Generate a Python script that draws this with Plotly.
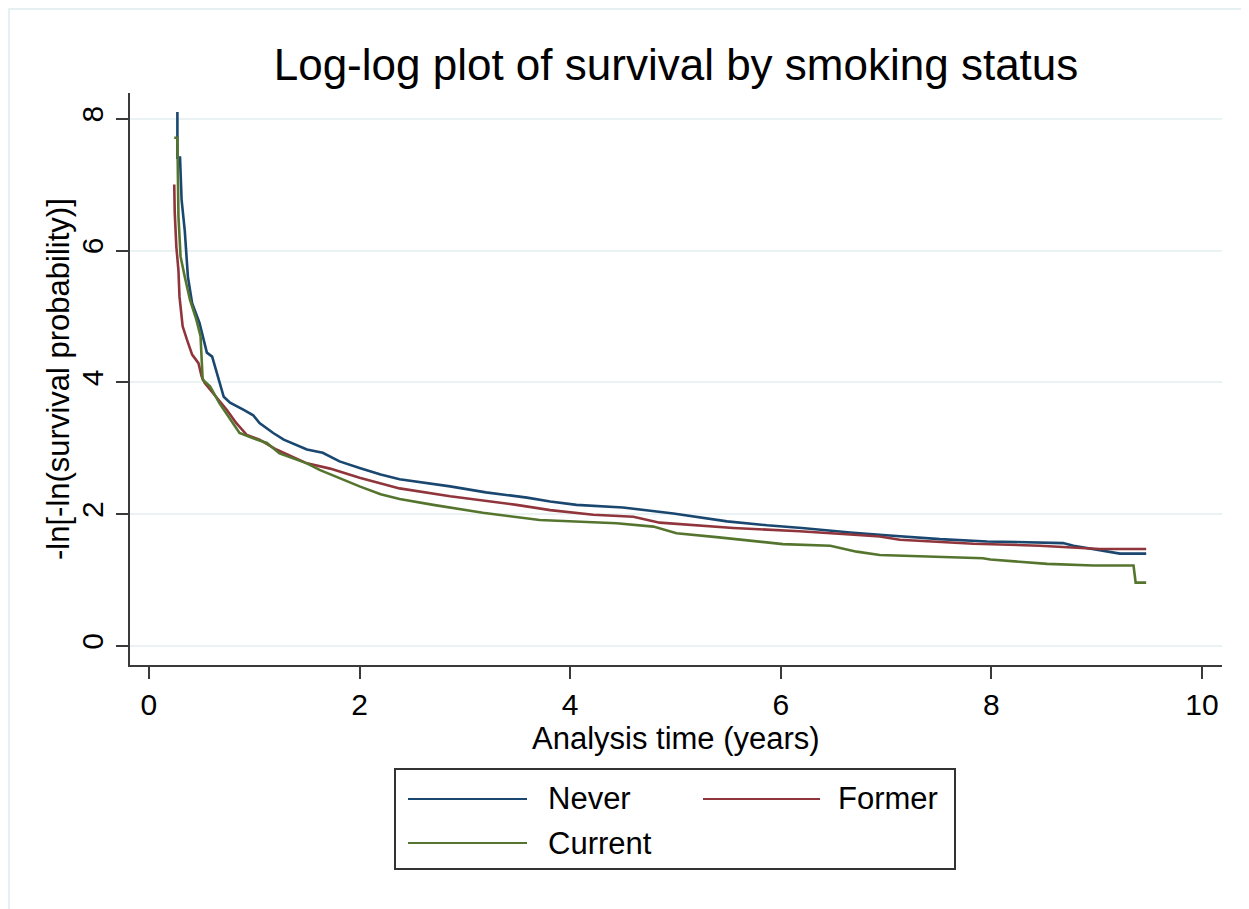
import plotly.graph_objects as go

# ---------------- data ----------------
series_names = ["Never", "Former", "Current"]

never_x = [0.27, 0.27, 0.295, 0.31, 0.34, 0.37, 0.41, 0.48, 0.55, 0.60, 0.71, 0.77, 0.90, 0.99,
           1.05, 1.18, 1.28, 1.50, 1.65, 1.81, 2.00, 2.20, 2.38, 2.86, 3.20, 3.59, 3.81, 4.06,
           4.50, 4.98, 5.49, 5.87, 6.20, 6.66, 7.00, 7.51, 7.96, 8.68, 8.78, 9.09, 9.22, 9.47]
never_y = [8.10, 7.41, 7.41, 6.77, 6.30, 5.60, 5.20, 4.90, 4.45, 4.39, 3.78, 3.69, 3.58, 3.50,
           3.38, 3.23, 3.13, 2.98, 2.93, 2.80, 2.70, 2.60, 2.53, 2.42, 2.33, 2.25, 2.19, 2.14,
           2.10, 2.01, 1.89, 1.83, 1.79, 1.72, 1.68, 1.62, 1.585, 1.56, 1.52, 1.44, 1.40, 1.40]

former_x = [0.24, 0.245, 0.26, 0.28, 0.29, 0.32, 0.36, 0.41, 0.47, 0.50, 0.53, 0.64, 0.74, 0.83,
            0.93, 1.05, 1.21, 1.50, 1.72, 2.00, 2.20, 2.38, 2.86, 3.49, 3.81, 4.22, 4.60, 4.85,
            5.55, 6.18, 6.66, 6.94, 7.13, 7.83, 8.46, 9.03, 9.47]
former_y = [7.00, 6.57, 6.06, 5.70, 5.30, 4.85, 4.65, 4.42, 4.29, 4.09, 3.99, 3.78, 3.58, 3.38,
            3.20, 3.13, 2.98, 2.77, 2.69, 2.55, 2.46, 2.39, 2.27, 2.14, 2.06, 1.99, 1.96, 1.87,
            1.79, 1.74, 1.69, 1.66, 1.61, 1.55, 1.52, 1.47, 1.47]

current_x = [0.24, 0.27, 0.28, 0.30, 0.34, 0.39, 0.45, 0.49, 0.51, 0.58, 0.67, 0.80, 0.86, 0.99,
             1.12, 1.24, 1.50, 1.62, 1.80, 2.00, 2.20, 2.38, 2.70, 3.17, 3.71, 4.44, 4.79, 5.01,
             5.39, 6.02, 6.47, 6.72, 6.94, 7.92, 7.99, 8.53, 8.97, 9.35, 9.37, 9.47]
current_y = [7.71, 7.71, 6.52, 5.91, 5.60, 5.25, 4.95, 4.70, 4.04, 3.94, 3.68, 3.38, 3.23, 3.15,
             3.08, 2.92, 2.77, 2.67, 2.55, 2.42, 2.30, 2.23, 2.14, 2.02, 1.91, 1.86, 1.81, 1.71,
             1.65, 1.545, 1.52, 1.43, 1.38, 1.33, 1.31, 1.245, 1.22, 1.22, 0.96, 0.96]

x_ticks = [0, 2, 4, 6, 8, 10]
y_ticks = [0, 2, 4, 6, 8]

title_text = "Log-log plot of survival by smoking status"
x_title = "Analysis time (years)"
y_title = "-ln[-ln(survival probability)]"

# ---------------- styling ----------------
OFF = 8                      # page body margin
W, H = 1249 - OFF, 909 - OFF
# plot-area edges in page pixels: left 130, right 1222, top 93, bottom 665
ML, MR, MT, MB = 130 - OFF, W - (1222 - OFF), 93 - OFF, H - (665 - OFF)
colors = ["#1a476f", "#90353b", "#55752f"]
FONT = "Liberation Sans, Arial, sans-serif"
AXC = "#3a3a3a"

pw = W - ML - MR
ph = H - MT - MB


def px2x(px):
    """page pixel x -> paper x"""
    return (px - OFF - ML) / pw


def px2y(py):
    """page pixel y -> paper y"""
    return (H - MB - (py - OFF)) / ph


fig = go.Figure()
for name, xs, ys, c in zip(series_names, [never_x, former_x, current_x],
                           [never_y, former_y, current_y], colors):
    fig.add_trace(go.Scatter(x=xs, y=ys, mode="lines", name=name,
                             line=dict(color=c, width=2.6), showlegend=False))

fig.update_layout(
    width=W, height=H,
    margin=dict(l=ML, r=MR, t=MT, b=MB, autoexpand=False),
    paper_bgcolor="white", plot_bgcolor="white",
    font=dict(family=FONT, color="black", size=31),
    title=dict(text=title_text, x=0.5, xref="paper", xanchor="center",
               y=1 - (65 - OFF) / H, yref="container", yanchor="middle",
               font=dict(size=44, family=FONT, color="black")),
    xaxis=dict(range=[-0.18, 10.19], tickvals=x_ticks, showgrid=False, zeroline=False,
               showline=True, linecolor=AXC, linewidth=2, ticks="outside", ticklen=12,
               tickwidth=2, tickcolor=AXC, tickfont=dict(size=30), ticklabelstandoff=0),
    yaxis=dict(range=[-0.29, 8.39], tickvals=y_ticks, showgrid=True, gridcolor="#eaf2f3",
               gridwidth=2, zeroline=False, showline=True, linecolor=AXC, linewidth=2,
               ticks="outside", ticklen=12, tickwidth=2, tickcolor=AXC, tickangle=-90,
               tickfont=dict(size=30), ticklabelstandoff=1),
)

shapes = []
# outer light frame
shapes.append(dict(type="rect", xref="paper", yref="paper",
                   x0=px2x(9), x1=px2x(1270), y0=px2y(930), y1=px2y(9),
                   line=dict(color="#e6f0f2", width=2), fillcolor="rgba(0,0,0,0)", layer="below"))
# legend box
shapes.append(dict(type="rect", xref="paper", yref="paper",
                   x0=px2x(395), x1=px2x(955), y0=px2y(869), y1=px2y(769),
                   line=dict(color="#333333", width=2), fillcolor="white"))
legend_pos = [(408, 527, 546, 799), (703, 820, 836, 799), (408, 527, 546, 843)]
annotations = [
    dict(text=x_title, xref="paper", yref="paper", x=px2x(676), y=px2y(738),
         xanchor="center", yanchor="middle", showarrow=False,
         font=dict(size=31, family=FONT, color="black")),
    dict(text=y_title, xref="paper", yref="paper", x=px2x(58), y=px2y(379),
         xanchor="center", yanchor="middle", showarrow=False, textangle=-90,
         font=dict(size=31, family=FONT, color="black")),
]
for name, c, (lx0, lx1, tx, ly) in zip(series_names, colors, legend_pos):
    shapes.append(dict(type="line", xref="paper", yref="paper",
                       x0=px2x(lx0), x1=px2x(lx1), y0=px2y(ly), y1=px2y(ly),
                       line=dict(color=c, width=2.2)))
    annotations.append(dict(text=name, xref="paper", yref="paper", x=px2x(tx), y=px2y(ly),
                            xanchor="left", yanchor="middle", showarrow=False,
                            font=dict(size=31, family=FONT, color="black")))

fig.update_layout(shapes=shapes, annotations=annotations)
fig.write_html("out.html")
